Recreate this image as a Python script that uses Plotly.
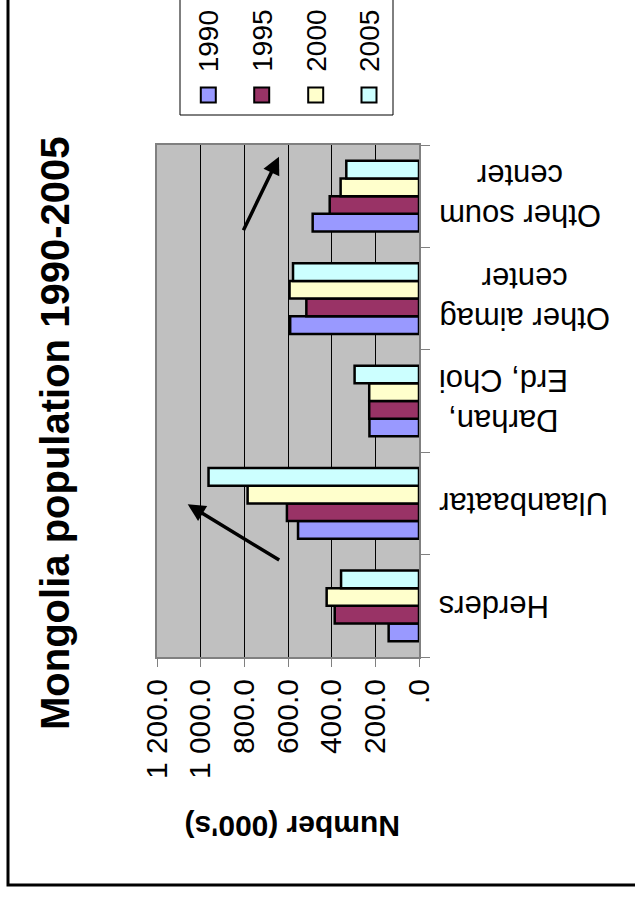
import plotly.graph_objects as go

# Population by settlement type, thousands of people
categories = ["Herders", "Ulaanbaatar", "Darhan,<br>Erd, Choi",
              "Other aimag<br>center", "Other soum<br>center"]
years = ["1990", "1995", "2000", "2005"]
pop_1990 = [139, 554, 227, 590, 487]
pop_1995 = [386, 605, 228, 516, 409]
pop_2000 = [423, 785, 228, 593, 359]
pop_2005 = [357, 964, 295, 577, 333]
series = [pop_1990, pop_1995, pop_2000, pop_2005]
colors = ["#9999FF", "#993366", "#FFFFCC", "#CCFFFF"]

tick_vals = [0, 200, 400, 600, 800, 1000, 1200]
tick_text = [".0", "200.0", "400.0", "600.0", "800.0", "1 000.0", "1 200.0"]

W, H = 635, 897
L, R, T, B = 157, 419, 145, 657   # plot area in page pixels
FONT = "Arial, Liberation Sans, sans-serif"


def px(x):
    return (x - L) / (R - L)


def py(y):
    return (B - y) / (B - T)


fig = go.Figure()
for name, vals, col in zip(years, series, colors):
    fig.add_trace(go.Bar(
        y=categories, x=vals, name=name, orientation="h",
        marker=dict(color=col, line=dict(color="black", width=2.5)),
        showlegend=False,
    ))

annotations = []
shapes = []

# outer chart frame (extends past the top and right edges)
shapes.append(dict(type="rect", xref="paper", yref="paper",
                   x0=px(8), x1=px(W + 10), y0=py(885), y1=py(-10),
                   line=dict(color="black", width=3), fillcolor="rgba(0,0,0,0)",
                   layer="above"))

# title, rotated
annotations.append(dict(text="<b>Mongolia population 1990-2005</b>",
                        xref="paper", yref="paper", x=px(55), y=py(434),
                        xanchor="center", yanchor="middle", textangle=-90,
                        showarrow=False, font=dict(family=FONT, size=40, color="black")))

# value axis title, upside down
annotations.append(dict(text="<b>Number (000's)</b>",
                        xref="paper", yref="paper", x=px(292), y=py(827),
                        xanchor="center", yanchor="middle", textangle=180,
                        showarrow=False, font=dict(family=FONT, size=30, color="black")))

# category labels, upside down, right of the plot
for cat in categories:
    annotations.append(dict(text=cat, xref="paper", yref="y", x=px(437), y=cat,
                            xanchor="left", yanchor="middle", textangle=180,
                            align="center", showarrow=False,
                            font=dict(family=FONT, size=31, color="black")))

# legend box with rotated entries
shapes.append(dict(type="rect", xref="paper", yref="paper",
                   x0=px(180), x1=px(393), y0=py(115), y1=py(-5),
                   line=dict(color="black", width=1), fillcolor="white"))
leg_x = [208.3, 261.7, 315.7, 369.0]
for cx, name, col in zip(leg_x, years, colors):
    shapes.append(dict(type="rect", xref="paper", yref="paper",
                       x0=px(cx - 7.5), x1=px(cx + 7.5), y0=py(102.5), y1=py(87.5),
                       line=dict(color="black", width=2), fillcolor=col))
    annotations.append(dict(text=name, xref="paper", yref="paper",
                            x=px(cx), y=py(41), xanchor="center", yanchor="middle",
                            textangle=-90, showarrow=False,
                            font=dict(family=FONT, size=28, color="black")))

# trend arrows
for (hx, hy), (tx, ty) in [((279, 156.7), (242.7, 231.7)),
                           ((187.7, 504.3), (280.7, 561))]:
    annotations.append(dict(text="", xref="paper", yref="paper",
                            x=px(hx), y=py(hy), ax=tx - hx, ay=ty - hy,
                            showarrow=True, arrowhead=2, arrowsize=1,
                            arrowwidth=3.5, arrowcolor="black", standoff=0))

fig.update_layout(
    width=W, height=H,
    margin=dict(l=L, r=W - R, t=T, b=H - B, pad=0),
    paper_bgcolor="white", plot_bgcolor="#C0C0C0",
    barmode="group", bargap=0.31, bargroupgap=0,
    annotations=annotations, shapes=shapes,
    font=dict(family=FONT, color="black"),
    xaxis=dict(range=[1200, 0], tickvals=tick_vals, ticktext=tick_text,
               tickangle=-90, tickfont=dict(family=FONT, size=30, color="black"),
               ticks="outside", ticklen=8, tickcolor="#808080", tickwidth=1,
               showline=True, linecolor="#808080", linewidth=2, mirror=True,
               showgrid=True, gridcolor="black", gridwidth=1, zeroline=False),
    yaxis=dict(side="right", tickson="boundaries", ticks="outside", ticklen=9,
               tickcolor="#808080", tickwidth=1, showticklabels=False,
               showline=True, linecolor="#808080", linewidth=2, mirror=True,
               showgrid=False, zeroline=False),
)

fig.write_html("out.html")
